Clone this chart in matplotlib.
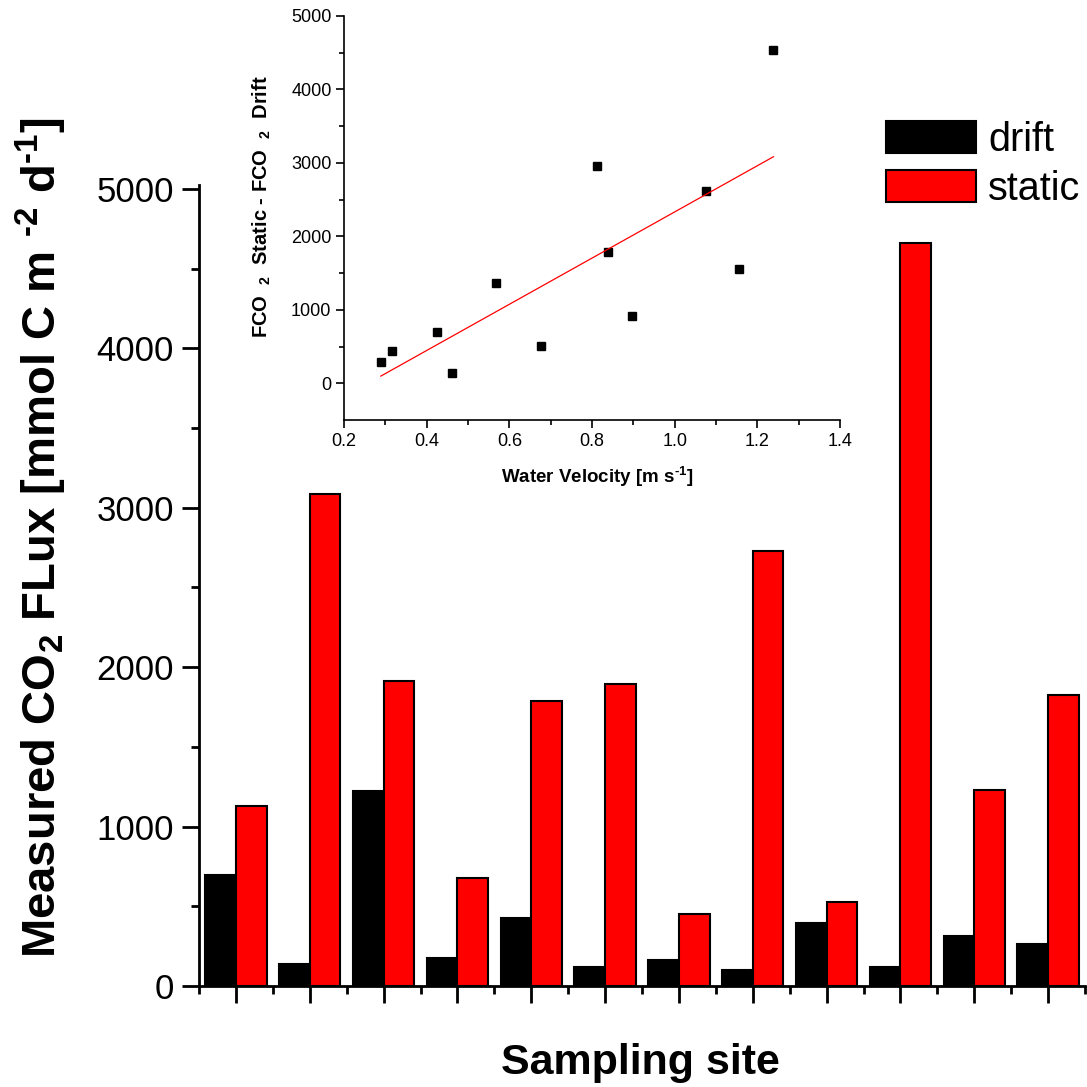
import matplotlib
matplotlib.use("Agg")
import matplotlib.pyplot as plt
import numpy as np

plt.rcParams['font.family'] = ['Liberation Sans', 'DejaVu Sans']
plt.rcParams['mathtext.fontset'] = 'custom'
plt.rcParams['mathtext.rm'] = 'Liberation Sans:bold'
plt.rcParams['mathtext.default'] = 'regular'

# measured flux per sampling site [mmol C m-2 d-1]
sites = np.arange(1, 13)
drift = [696, 138, 1223, 176, 427, 119, 163, 100, 395, 119, 314, 263]
static = [1129, 3087, 1913, 678, 1788, 1895, 452, 2729, 527, 4661, 1230, 1823]

# static - drift difference vs water velocity
velocity = [0.289, 0.315, 0.426, 0.461, 0.567, 0.677, 0.811, 0.838, 0.897, 1.076, 1.156, 1.239]
diff = [286, 436, 695, 136, 1362, 506, 2954, 1782, 913, 2620, 1558, 4533]

W, H = 1087, 1087
fig = plt.figure(figsize=(W / 100, H / 100), dpi=100)

ax = fig.add_axes([199 / W, 1 - 986 / H, 886 / W, 801 / H])
bw = 0.415
b1 = ax.bar(sites - bw / 2, drift, bw, color='black', edgecolor='black', linewidth=1.5, label='drift')
b2 = ax.bar(sites + bw / 2, static, bw, color='red', edgecolor='black', linewidth=1.5, label='static')
ax.set_xlim(0.5, 12.5)
ax.set_ylim(0, 5025)
for s in ['top', 'right']:
    ax.spines[s].set_visible(False)
for s in ['left', 'bottom']:
    ax.spines[s].set_linewidth(2)
ax.set_xticks(sites)
ax.set_xticks(np.arange(0.5, 12.6, 1), minor=True)
ax.set_xticklabels([])
ax.set_yticks(np.arange(0, 5001, 1000))
ax.set_yticks(np.arange(500, 5000, 1000), minor=True)
ax.tick_params(which='major', direction='out', length=12, width=2, labelsize=25, pad=6)
ax.tick_params(which='minor', direction='out', length=6, width=2)
# U+2010 hyphen keeps the short dash in the exponents
ax.set_ylabel('Measured CO$_2$ FLux [mmol C m $^{\u20102}$ d$^{\u20101}$]', fontsize=34, fontweight='bold')
ax.yaxis.set_label_coords(-0.178, 0.56)
ax.set_xlabel('Sampling site', fontsize=31, fontweight='bold')
ax.xaxis.set_label_coords(0.498, -0.096)
ax.xaxis.label.set_va('center')
ax.yaxis.label.set_va('center')

fig.legend(handles=[b1, b2], loc='upper left', bbox_to_anchor=(886 / W, 1 - 121 / H),
           frameon=False, fontsize=28.5, borderpad=0, borderaxespad=0,
           handlelength=2.28, handleheight=0.86, handletextpad=0.3, labelspacing=0.28)

# inset: difference vs velocity with linear fit
ins = fig.add_axes([344 / W, 1 - 420 / H, 496 / W, 404 / H])
ins.plot(velocity, diff, 's', color='black', ms=6)
k, b = np.polyfit(velocity, diff, 1)
vx = np.array([min(velocity), max(velocity)])
ins.plot(vx, k * vx + b, color='red', lw=0.9)
ins.set_xlim(0.2, 1.4)
ins.set_ylim(-500, 5000)
for s in ['top', 'right']:
    ins.spines[s].set_visible(False)
for s in ['left', 'bottom']:
    ins.spines[s].set_linewidth(1.2)
ins.set_xticks(np.arange(0.2, 1.41, 0.2))
ins.set_xticks(np.arange(0.3, 1.4, 0.2), minor=True)
ins.set_yticks(np.arange(0, 5001, 1000))
ins.set_yticks(np.arange(500, 5000, 1000), minor=True)
ins.xaxis.set_major_formatter(matplotlib.ticker.FormatStrFormatter('%.1f'))
ins.tick_params(which='major', direction='out', length=6, width=1.2, labelsize=13, pad=3)
ins.tick_params(which='minor', direction='out', length=3.5, width=1.2)
ins.set_xlabel('Water Velocity [m s$^{\u20101}$]', fontsize=13.5, fontweight='bold')
ins.xaxis.set_label_coords(0.51, -0.141)
ins.xaxis.label.set_va('center')
ins.set_ylabel('FCO  $_2$  Static - FCO  $_2$  Drift', fontsize=14.5, fontweight='bold')
ins.yaxis.set_label_coords(-0.165, 0.527)
ins.yaxis.label.set_va('center')

fig.savefig('out.png', dpi=100)
